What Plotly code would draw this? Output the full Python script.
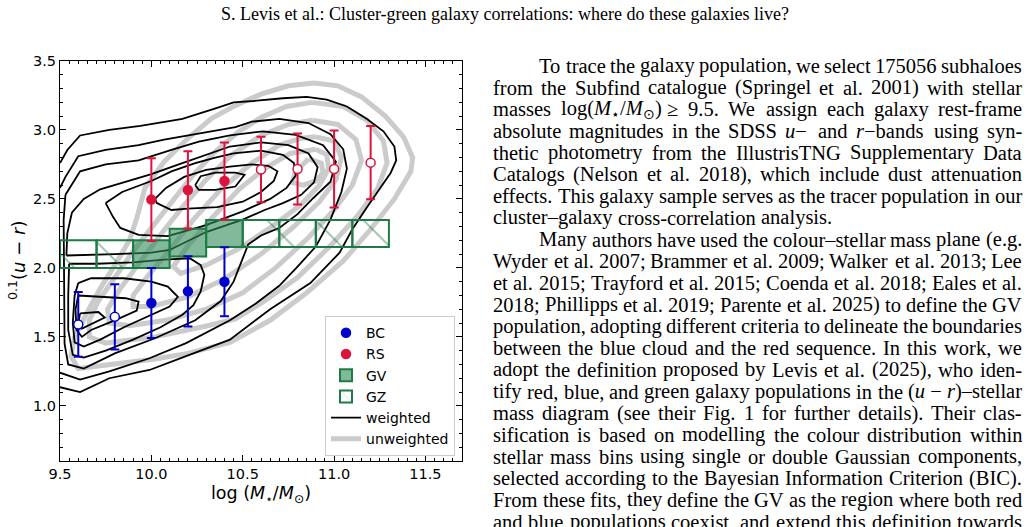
import plotly.graph_objects as go

# ---------------- data ----------------
BC_X = [9.6, 9.8, 10.0, 10.2, 10.4]
BC_Y = [1.59, 1.645, 1.745, 1.83, 1.90]
BC_ERR = [0.235, 0.237, 0.254, 0.254, 0.25]
BC_OPEN = [True, True, False, False, False]

RS_X = [10.0, 10.2, 10.4, 10.6, 10.8, 11.0, 11.2]
RS_Y = [2.495, 2.565, 2.63, 2.713, 2.717, 2.717, 2.763]
RS_ERR = [0.30, 0.28, 0.28, 0.237, 0.257, 0.28, 0.265]
RS_OPEN = [False, False, False, True, True, True, True]

BIN_X = [9.6, 9.8, 10.0, 10.2, 10.4, 10.6, 10.8, 11.0, 11.2]
BIN_LO = [2.0, 2.0, 2.0, 2.082, 2.152, 2.152, 2.152, 2.152, 2.152]
BIN_HI = [2.2, 2.2, 2.2, 2.283, 2.348, 2.348, 2.348, 2.348, 2.348]
BIN_KIND = ["GZ", "GZ", "GV", "GV", "GV", "GZ", "GZ", "GZ", "GZ"]
BIN_WIDTH = 0.2

# weighted (black) contour paths, (logM, u-r)
W1 = [(9.50,1.135),(9.61,1.10),(9.77,1.20),(9.99,1.26),(10.19,1.36),(10.43,1.48),(10.65,1.70),(10.87,1.89),
      (11.03,2.11),(11.10,2.28),(11.18,2.44),(11.25,2.57),(11.31,2.69),(11.34,2.78),(11.33,2.88),(11.27,2.99),
      (11.18,3.08),(11.07,3.17),(10.96,3.22),(10.85,3.24),(10.72,3.23),(10.56,3.21),(10.45,3.20),(10.36,3.16),
      (10.27,3.12),(10.17,3.08),(10.08,3.06),(9.94,3.03),(9.77,3.00),(9.61,2.96),(9.54,2.855),(9.50,2.76)]
W2 = [(9.50,1.24),(9.61,1.19),(9.77,1.25),(9.99,1.345),(10.19,1.455),(10.43,1.62),(10.57,1.74),(10.70,1.87),
      (10.80,2.01),(10.90,2.155),(10.98,2.35),(11.04,2.55),(11.07,2.72),(11.05,2.86),(10.98,2.97),(10.86,3.05),
      (10.70,3.08),(10.55,3.06),(10.46,3.02),(10.33,2.99),(10.20,2.96),(10.07,2.93),(9.93,2.89),(9.75,2.855),
      (9.60,2.81),(9.53,2.66),(9.50,2.58)]
W3 = [(9.53,2.53),(9.61,2.70),(9.75,2.75),(9.93,2.78),(10.11,2.855),(10.26,2.915),(10.43,2.96),(10.61,2.99),
      (10.79,2.965),(10.94,2.89),(11.01,2.77),(10.98,2.625),(10.885,2.505),(10.80,2.39),(10.70,2.29),(10.60,2.235),
      (10.53,2.17),(10.49,2.04),(10.45,1.90),(10.38,1.76),(10.24,1.62),(10.02,1.49),(9.80,1.38),(9.63,1.27),
      (9.545,1.30),(9.525,1.45),(9.52,2.00),(9.52,2.35),(9.53,2.53)]
W4R = [(9.535,2.09),(9.54,2.25),(9.565,2.40),(9.63,2.50),(9.72,2.57),(9.85,2.62),(10.00,2.68),(10.15,2.75),
       (10.30,2.82),(10.43,2.88),(10.60,2.91),(10.75,2.89),(10.86,2.83),(10.91,2.73),(10.89,2.62),(10.82,2.53),
       (10.72,2.47),(10.62,2.42),(10.50,2.35),(10.30,2.26),(10.10,2.13),(10.00,2.11),(9.80,2.10),(9.60,2.09),(9.535,2.09)]
W4B = [(9.55,2.03),(9.70,2.03),(9.90,2.04),(10.07,2.06),(10.21,2.07),(10.27,2.02),(10.29,1.95),(10.27,1.83),
       (10.23,1.73),(10.17,1.66),(10.05,1.57),(9.90,1.48),(9.75,1.40),(9.63,1.35),(9.57,1.37),(9.545,1.55),
       (9.545,1.80),(9.55,2.03)]
W5R = [(9.75,2.47),(9.79,2.37),(9.83,2.29),(9.93,2.24),(10.09,2.23),(10.30,2.31),(10.50,2.41),(10.65,2.50),
       (10.74,2.58),(10.79,2.67),(10.78,2.76),(10.72,2.82),(10.60,2.85),(10.45,2.83),(10.35,2.80),(10.24,2.76),
       (10.11,2.70),(10.00,2.63),(9.84,2.55),(9.75,2.47)]
W5B = [(9.60,1.89),(9.67,1.925),(9.85,1.925),(10.00,1.90),(10.09,1.865),(10.145,1.79),(10.10,1.72),(9.98,1.65),
       (9.85,1.57),(9.72,1.48),(9.63,1.43),(9.58,1.46),(9.57,1.60),(9.58,1.80),(9.60,1.89)]
W6R = [(10.02,2.50),(10.08,2.58),(10.18,2.66),(10.30,2.71),(10.43,2.735),(10.55,2.75),(10.64,2.74),(10.69,2.70),
       (10.67,2.63),(10.60,2.55),(10.50,2.48),(10.36,2.44),(10.20,2.43),(10.11,2.42),(10.03,2.47),(10.02,2.50)]
W6B = [(9.60,1.80),(9.745,1.79),(9.86,1.78),(9.93,1.755),(9.92,1.69),(9.80,1.62),(9.67,1.55),(9.62,1.50),
       (9.59,1.55),(9.585,1.70),(9.60,1.80)]
W7R = [(10.24,2.60),(10.27,2.665),(10.35,2.69),(10.46,2.69),(10.51,2.675),(10.46,2.59),(10.35,2.565),(10.26,2.565),(10.24,2.60)]
W7B = [(9.61,1.67),(9.71,1.68),(9.745,1.64),(9.655,1.585),(9.62,1.56),(9.60,1.60),(9.61,1.67)]
WEIGHTED = [W1, W2, W3, W4R, W4B, W5R, W5B, W6R, W6B, W7R, W7B]

# unweighted (grey) contour paths
U1 = [(10.89,3.34),(11.02,3.32),(11.15,3.24),(11.28,3.10),(11.38,2.95),(11.43,2.80),(11.42,2.70),(11.33,2.50),
      (11.20,2.28),(11.05,2.05),(10.85,1.82),(10.65,1.62),(10.43,1.46),(10.20,1.38),(10.02,1.34),(9.75,1.29),
      (9.60,1.27),(9.56,1.36),(9.58,1.50),(9.65,1.68),(9.72,1.85),(9.80,2.02),(9.88,2.20),(9.92,2.36),
      (9.965,2.58),(10.07,2.77),(10.20,2.94),(10.33,3.085),(10.45,3.17),(10.60,3.26),(10.75,3.32),(10.89,3.34)]
U2 = [(10.88,3.20),(11.05,3.17),(11.18,3.07),(11.27,2.92),(11.29,2.76),(11.24,2.58),(11.13,2.38),(10.98,2.16),
      (10.80,1.93),(10.62,1.76),(10.46,1.63),(10.29,1.575),(10.02,1.50),(9.75,1.455),(9.66,1.50),(9.66,1.62),
      (9.71,1.76),(9.80,1.93),(9.90,2.12),(10.00,2.29),(10.11,2.48),(10.22,2.66),(10.34,2.83),(10.47,2.98),
      (10.60,3.09),(10.74,3.17),(10.88,3.20)]
U3 = [(10.88,3.07),(11.02,3.04),(11.12,2.93),(11.15,2.78),(11.10,2.60),(11.00,2.42),(10.86,2.22),(10.68,2.00),
      (10.50,1.82),(10.30,1.70),(10.08,1.62),(9.88,1.58),(9.77,1.60),(9.76,1.70),(9.83,1.85),(9.93,2.03),
      (10.05,2.24),(10.17,2.44),(10.30,2.64),(10.44,2.82),(10.60,2.96),(10.75,3.04),(10.88,3.07)]
U4 = [(10.90,2.95),(11.00,2.92),(11.04,2.80),(11.01,2.64),(10.92,2.48),(10.78,2.30),(10.60,2.10),(10.40,1.92),
      (10.20,1.79),(10.00,1.72),(9.90,1.72),(9.90,1.80),(9.98,1.94),(10.10,2.13),(10.23,2.35),(10.38,2.57),
      (10.55,2.76),(10.70,2.89),(10.82,2.94),(10.90,2.95)]
U5 = [(10.90,2.86),(10.96,2.82),(10.97,2.72),(10.92,2.60),(10.82,2.46),(10.66,2.30),(10.48,2.14),(10.30,2.02),
      (10.16,1.96),(10.12,2.01),(10.20,2.16),(10.33,2.36),(10.48,2.57),(10.62,2.72),(10.76,2.83),(10.90,2.86)]
U6 = [(10.86,2.79),(10.93,2.76),(10.94,2.69),(10.90,2.63),(10.83,2.60),(10.77,2.62),(10.79,2.70),(10.86,2.79)]
UNWEIGHTED = [U1, U2, U3, U4, U5, U6]

# ---------------- page text ----------------
HEADER = "S. Levis et al.: Cluster-green galaxy correlations: where do these galaxies live?"
BODY_LINES = [
    ("To trace the galaxy population, we select 175056 subhaloes", True, True),
    ("from the Subfind catalogue (Springel et al. 2001) with stellar", False, True),
    ("masses LOGM ≥ 9.5. We assign each galaxy rest-frame", False, True),
    ("absolute magnitudes in the SDSS UMINUS and RBANDS using syn-", False, True),
    ("thetic photometry from the IllustrisTNG Supplementary Data", False, True),
    ("Catalogs (Nelson et al. 2018), which include dust attenuation", False, True),
    ("effects. This galaxy sample serves as the tracer population in our", False, True),
    ("cluster–galaxy cross-correlation analysis.", False, False),
    ("Many authors have used the colour–stellar mass plane (e.g.", True, True),
    ("Wyder et al. 2007; Brammer et al. 2009; Walker et al. 2013; Lee", False, True),
    ("et al. 2015; Trayford et al. 2015; Coenda et al. 2018; Eales et al.", False, True),
    ("2018; Phillipps et al. 2019; Parente et al. 2025) to define the GV", False, True),
    ("population, adopting different criteria to delineate the boundaries", False, True),
    ("between the blue cloud and the red sequence. In this work, we", False, True),
    ("adopt the definition proposed by Levis et al. (2025), who iden-", False, True),
    ("tify red, blue, and green galaxy populations in the URSTELLAR", False, True),
    ("mass diagram (see their Fig. 1 for further details). Their clas-", False, True),
    ("sification is based on modelling the colour distribution within", False, True),
    ("stellar mass bins using single or double Gaussian components,", False, True),
    ("selected according to the Bayesian Information Criterion (BIC).", False, True),
    ("From these fits, they define the GV as the region where both red", False, True),
    ("and blue populations coexist, and extend this definition towards", False, True),
]
SPECIAL = {
    "LOGM": ("log(<i>M</i><sub>⋆</sub>/<i>M</i><sub>⊙</sub>)", 4750),
    "UMINUS": ("<i>u</i>−", 1250),
    "RBANDS": ("<i>r</i>−bands", 3450),
    "URSTELLAR": ("(<i>u</i> − <i>r</i>)–stellar", 5563),
}

TIMES = {}
for ch, w in zip("abcdefghijklmnopqrstuvwxyz",
                 [444,500,444,500,444,333,500,500,278,278,500,278,778,500,500,500,500,333,389,278,500,500,722,500,500,444]):
    TIMES[ch] = w
for ch, w in zip("ABCDEFGHIJKLMNOPQRSTUVWXYZ",
                 [722,667,667,722,611,556,722,722,333,389,722,611,889,722,722,556,722,667,556,611,722,722,944,722,722,611]):
    TIMES[ch] = w
for ch in "0123456789":
    TIMES[ch] = 500
TIMES.update({" ": 250, ".": 250, ",": 250, ";": 278, ":": 278, "(": 333, ")": 333, "-": 333,
              "–": 500, "—": 1000, "−": 564, "≥": 549, "?": 444})

# ---------------- figure ----------------
GREEN = "#1f7b45"
BLUE = "#0000cd"
RED = "#dc143c"

fig = go.Figure()

for i, path in enumerate(UNWEIGHTED):
    fig.add_trace(go.Scatter(x=[p[0] for p in path], y=[p[1] for p in path], mode="lines",
                             line=dict(color="#cbcbcb", width=5), name="unweighted",
                             legendgroup="unw", showlegend=(i == 0), legendrank=6,
                             hoverinfo="skip", zorder=0))
for i, path in enumerate(WEIGHTED):
    fig.add_trace(go.Scatter(x=[p[0] for p in path], y=[p[1] for p in path], mode="lines",
                             line=dict(color="black", width=1.8), name="weighted",
                             legendgroup="w", showlegend=(i == 0), legendrank=5,
                             hoverinfo="skip", zorder=1))

gv = [i for i, k in enumerate(BIN_KIND) if k == "GV"]
gz = [i for i, k in enumerate(BIN_KIND) if k == "GZ"]
fig.add_trace(go.Bar(x=[BIN_X[i] for i in gv], y=[BIN_HI[i] - BIN_LO[i] for i in gv],
                     base=[BIN_LO[i] for i in gv], width=BIN_WIDTH, name="GV", legendrank=3,
                     marker=dict(color="rgba(46,139,87,0.6)", line=dict(color=GREEN, width=2)),
                     hoverinfo="skip", zorder=2))
fig.add_trace(go.Bar(x=[BIN_X[i] for i in gz], y=[BIN_HI[i] - BIN_LO[i] for i in gz],
                     base=[BIN_LO[i] for i in gz], width=BIN_WIDTH, name="GZ", legendrank=4,
                     marker=dict(color="rgba(0,0,0,0)", line=dict(color=GREEN, width=2),
                                 pattern=dict(shape="\\", fgcolor=GREEN, size=34, solidity=0.05,
                                              fillmode="overlay")),
                     hoverinfo="skip", zorder=2))


def add_points(xs, ys, errs, opens, color, name, rank):
    for is_open in (False, True):
        idx = [i for i, o in enumerate(opens) if o == is_open]
        if not idx:
            continue
        fig.add_trace(go.Scatter(
            x=[xs[i] for i in idx], y=[ys[i] for i in idx], mode="markers", name=name,
            error_y=dict(type="data", array=[errs[i] for i in idx], color=color, thickness=2, width=4.5),
            marker=dict(size=9, color="white" if is_open else color, line=dict(color=color, width=1.5)),
            showlegend=not is_open, legendgroup=name, legendrank=rank, hoverinfo="skip", zorder=3))


add_points(BC_X, BC_Y, BC_ERR, BC_OPEN, BLUE, "BC", 1)
add_points(RS_X, RS_Y, RS_ERR, RS_OPEN, RED, "RS", 2)

# ---- layout ----
L, R, T, B = 60, 462, 61, 461


def paper(px, py):
    return (px - L) / (R - L), (B - py) / (B - T)


annotations = []
hx, hy = paper(505, 14)
annotations.append(dict(text=HEADER, x=hx, y=hy, xref="paper", yref="paper", xanchor="center",
                        yanchor="middle", showarrow=False,
                        font=dict(family="Liberation Serif", size=18, color="black")))
yx, yy = paper(17, 261)
annotations.append(dict(text="<sup>0.1</sup>(<i>u</i> − <i>r</i>)", x=yx, y=yy, xref="paper", yref="paper",
                        xanchor="center", yanchor="middle", textangle=-90, showarrow=False,
                        font=dict(family="DejaVu Sans", size=18, color="black")))
xx, xy = paper(261, 494)
annotations.append(dict(text="log (<i>M</i><sub>⋆</sub>/<i>M</i><sub>⊙</sub>)", x=xx, y=xy,
                        xref="paper", yref="paper", xanchor="center", yanchor="middle", showarrow=False,
                        font=dict(family="DejaVu Sans", size=17.5, color="black")))

FS = 20.5
LEFT, INDENT, RIGHT = 493, 539, 1022
TOP0, LEAD = 66, 21.7
for li, (txt, ind, just) in enumerate(BODY_LINES):
    items = []
    for w in txt.split(" "):
        if w in SPECIAL:
            html, units = SPECIAL[w]
        else:
            html, units = w, sum(TIMES.get(c, 500) for c in w)
        items.append((html, units * FS / 1000.0))
    x0 = INDENT if ind else LEFT
    tot = sum(wd for _, wd in items)
    gap = (RIGHT - x0 - tot) / (len(items) - 1) if (just and len(items) > 1) else 0.25 * FS
    xpos = x0
    ypos = TOP0 + LEAD * li
    for html, wd in items:
        ax, ay = paper(xpos, ypos)
        annotations.append(dict(text=html, x=ax, y=ay, xref="paper", yref="paper", xanchor="left",
                                yanchor="middle", showarrow=False, borderpad=0, borderwidth=0,
                                font=dict(family="Liberation Serif", size=FS, color="black")))
        xpos += wd + gap

axis_common = dict(showline=True, linecolor="black", linewidth=1, mirror="allticks", ticks="inside",
                   ticklen=6, tickwidth=1, tickcolor="black", showgrid=False, zeroline=False,
                   tickformat=".1f", tickfont=dict(family="DejaVu Sans", size=14.5, color="black"))

fig.update_layout(
    width=1030, height=527, autosize=False,
    margin=dict(l=L, r=1030 - R, t=T, b=527 - B, pad=0),
    paper_bgcolor="white", plot_bgcolor="white", barmode="overlay",
    font=dict(family="DejaVu Sans", color="black"),
    xaxis=dict(range=[9.5, 11.7], dtick=0.5, tick0=9.5,
               minor=dict(dtick=0.05, tick0=9.5, ticks="inside", ticklen=3, tickcolor="black", tickwidth=0.8,
                          showgrid=False), **axis_common),
    yaxis=dict(range=[0.6, 3.5], dtick=0.5, tick0=1.0,
               minor=dict(dtick=0.1, tick0=0.6, ticks="inside", ticklen=3, tickcolor="black", tickwidth=0.8,
                          showgrid=False), **axis_common),
    showlegend=True,
    legend=dict(x=0.9826, y=0.012, xanchor="right", yanchor="bottom", bgcolor="white",
                bordercolor="#cccccc", borderwidth=1, traceorder="normal",
                font=dict(family="DejaVu Sans", size=14, color="black")),
    annotations=annotations,
    hovermode=False,
)

fig.write_html("out.html", config={"displayModeBar": False})
